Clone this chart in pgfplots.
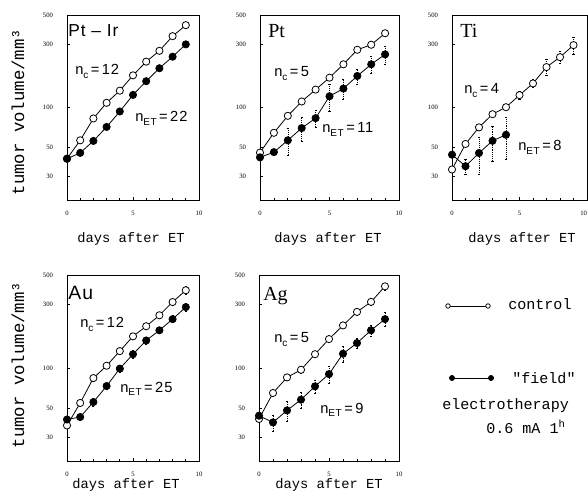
\documentclass[border=0pt]{standalone}
\usepackage{fontspec}
\setmainfont{Liberation Serif}
\newfontfamily\sansf[LetterSpace=6]{Liberation Sans}
\newfontfamily\monof{Liberation Mono}
\usepackage{pgfplots}
\pgfplotsset{compat=1.18}
\newcommand\sub[1]{\raisebox{-0.5ex}{\fontsize{7.5}{8}\selectfont #1}}
\pgfplotsset{
  mypanel/.style={
    scale only axis, xmin=0, xmax=10, ymin=20, ymax=500,
    xtick={0,5,10}, minor x tick num=4,
    ytick={30,50,100,300,500}, yticklabels={30,50,100,300,500},
    tick pos=left, tick align=inside, major tick length=2.5pt, minor tick length=1.5pt,
    xticklabel style={yshift=-5pt}, yticklabel style={xshift=-7pt},
    axis line style={line width=0.6pt},
    every tick/.style={black, line width=0.5pt},
    error bars/y dir=both, error bars/y explicit,
    error bars/error bar style={line width=0.45pt, densely dotted},
    error bars/error mark options={rotate=90, mark size=0.8pt, solid},
    ticklabel style={font=\fontsize{5}{6}\selectfont, /pgf/number format/assume math mode=true},
  },
  myctrl/.style={black, line width=0.6pt, mark=*, mark size=2.7pt, mark options={fill=white, solid}},
  myet/.style={black, line width=0.6pt, mark=*, mark size=2.7pt, mark options={fill=black, solid}},
}
\begin{document}
\begin{tikzpicture}
\useasboundingbox (0,0) rectangle (441pt,372pt);
% ---------- Pt-Ir ----------
\begin{axis}[ymode=log, mypanel, at={(50.25pt,222pt)}, anchor=south west, width=99pt, height=138.75pt]
\addplot[myctrl] table[row sep=\\, x=d, y=v, y error=e] {
d v e \\ 0 41 0 \\ 1 56.5 0 \\ 2 82.6 0 \\ 3 108.5 0 \\ 4 134 0 \\ 5 175 0 \\ 6 222 0 \\ 7 268 0 \\ 8 346 14 \\ 9 419 16 \\
};
\addplot[myet] table[row sep=\\, x=d, y=v, y error=e] {
d v e \\ 0 41 0 \\ 1 45.4 0 \\ 2 55.9 0 \\ 3 71.3 0 \\ 4 93.3 0 \\ 5 124.5 0 \\ 6 158 0 \\ 7 198 0 \\ 8 242 0 \\ 9 300 0 \\
};
\end{axis}
% ---------- Pt ----------
\begin{axis}[ymode=log, mypanel, at={(195pt,222pt)}, anchor=south west, width=104.25pt, height=138.75pt]
\addplot[myctrl] table[row sep=\\, x=d, y=v, y error=e] {
d v e \\ 0 45.6 2 \\ 1 64.4 2 \\ 2 86.5 3 \\ 3 111 3 \\ 4 136.5 4 \\ 5 168 5 \\ 6 212 6 \\ 7 273 8 \\ 8 298 12 \\ 9 364 12 \\
};
\addplot[myet] table[row sep=\\, x=d, y=v, y error=e] {
d v e \\ 0 42 0 \\ 1 46 2.4 \\ 2 56.5 13 \\ 3 69.9 14.2 \\ 4 83.1 12.4 \\ 5 121.6 28 \\ 6 139 24 \\ 7 173 23 \\ 8 212 32 \\ 9 252 39 \\
};
\end{axis}
% ---------- Ti ----------
\begin{axis}[ymode=log, mypanel, at={(339pt,222pt)}, anchor=south west, width=101.25pt, height=138.75pt,
  xticklabels={0,5,\makebox[0pt][r]{10}}]
\addplot[myctrl] table[row sep=\\, x=d, y=v, y error=e] {
d v e \\ 0 34 0 \\ 1 53 2 \\ 2 70.8 3 \\ 3 89 3 \\ 4 100.5 4 \\ 5 124 8 \\ 6 152 11 \\ 7 202 28 \\ 8 240 26 \\ 9 296 43 \\
};
\addplot[myet] table[row sep=\\, x=d, y=v, y error=e] {
d v e \\ 0 44 0 \\ 1 36 4.5 \\ 2 45.3 14 \\ 3 56 16.7 \\ 4 62.2 21.7 \\
};
\end{axis}
% ---------- Au ----------
\begin{axis}[ymode=log, mypanel, at={(50.25pt,26.25pt)}, anchor=south west, width=99pt, height=139.5pt]
\addplot[myctrl] table[row sep=\\, x=d, y=v, y error=e] {
d v e \\ 0 37 1.5 \\ 1 54.6 3 \\ 2 84 4 \\ 3 104 5 \\ 4 134 7 \\ 5 173 9 \\ 6 206 10 \\ 7 249 12 \\ 8 313 18 \\ 9 384 25 \\
};
\addplot[myet] table[row sep=\\, x=d, y=v, y error=e] {
d v e \\ 0 41 1.5 \\ 1 42.8 2 \\ 2 55.5 4 \\ 3 73.2 4 \\ 4 98.9 6 \\ 5 127 9 \\ 6 161 10 \\ 7 192 11 \\ 8 233 14 \\ 9 287 20 \\
};
\end{axis}
% ---------- Ag ----------
\begin{axis}[ymode=log, mypanel, at={(194.25pt,26.25pt)}, anchor=south west, width=105pt, height=139.5pt]
\addplot[myctrl] table[row sep=\\, x=d, y=v, y error=e] {
d v e \\ 0 41.4 3 \\ 1 64.9 4 \\ 2 85 4 \\ 3 97 5 \\ 4 127 6 \\ 5 165 8 \\ 6 209 10 \\ 7 264 14 \\ 8 314 16 \\ 9 411 24 \\
};
\addplot[myet] table[row sep=\\, x=d, y=v, y error=e] {
d v e \\ 0 43.8 3 \\ 1 39 5.5 \\ 2 48 8 \\ 3 57.8 8 \\ 4 72.8 8.5 \\ 5 90 12.6 \\ 6 128 17 \\ 7 154 14 \\ 8 192 19 \\ 9 233 28 \\
};
\end{axis}
% ---------- legend (axis in pixel units) ----------
\begin{axis}[at={(330pt,79.5pt)}, anchor=south west, scale only axis, width=45pt, height=75pt,
  xmin=440, xmax=500, ymin=290, ymax=390, y dir=reverse, hide axis, clip=false]
\addplot[black, line width=0.6pt, mark=*, mark size=1.7pt, mark options={fill=white}] coordinates {(448,306) (488,306)};
\addplot[black, line width=0.6pt, mark=*, mark size=1.9pt, mark options={fill=black}] coordinates {(452,378) (491,378)};
\end{axis}
% ---------- texts (pixel coordinates) ----------
\begin{scope}[x=0.75pt, y=-0.75pt, yshift=372pt]
\tikzset{lab/.style={inner sep=0pt}}
\node[lab, anchor=base west, font=\sansf\fontsize{13}{15}\selectfont] at (68,37) {Pt\,\,–\,\,Ir};
\node[lab, anchor=base west, font=\fontsize{15}{16}\selectfont] at (268,38) {Pt};
\node[lab, anchor=base west, font=\fontsize{15}{16}\selectfont] at (460,38) {Ti};
\node[lab, anchor=base west, font=\sansf\fontsize{14.5}{16}\selectfont] at (68,300) {Au};
\node[lab, anchor=base west, font=\fontsize{15}{16}\selectfont] at (263,301) {Ag};
\tikzset{nl/.style={lab, anchor=base west, font=\sansf\fontsize{11}{12}\selectfont}}
\node[nl] at (75,75) {n\sub{c}\,=\,12};
\node[nl] at (135,122) {n\sub{ET}\,=\,22};
\node[nl] at (274,77) {n\sub{c}\,=\,5};
\node[nl] at (322,133) {n\sub{ET}\,=\,11};
\node[nl] at (464,94) {n\sub{c}\,=\,4};
\node[nl] at (518,151) {n\sub{ET}\,=\,8};
\node[nl] at (80,328) {n\sub{c}\,=\,12};
\node[nl] at (120,392) {n\sub{ET}\,=\,25};
\node[nl] at (274,343) {n\sub{c}\,=\,5};
\node[nl] at (320,413) {n\sub{ET}\,=\,9};
\tikzset{yl/.style={lab, rotate=90, anchor=center, font=\monof\fontsize{13}{14}\selectfont}}
\node[yl] at (18,112) {tumor volume/mm³};
\node[yl] at (18,365) {tumor volume/mm³};
\tikzset{xl/.style={lab, anchor=base, font=\monof\fontsize{10.3}{12}\selectfont}}
\node[xl] at (131,243) {days after ET};
\node[xl] at (328,243) {days after ET};
\node[xl] at (522,243) {days after ET};
\node[xl] at (126,488) {days after ET};
\node[xl] at (329,488) {days after ET};
\tikzset{lg/.style={lab, anchor=base west, font=\monof\fontsize{11.3}{12}\selectfont}}
\node[lg] at (508,310) {control};
\node[lg] at (512,383) {"field"};
\node[lg] at (442,409) {electrotherapy};
\node[lg] at (486,433) {0.6 mA 1\textsuperscript{h}};
\end{scope}
\end{tikzpicture}
\end{document}
